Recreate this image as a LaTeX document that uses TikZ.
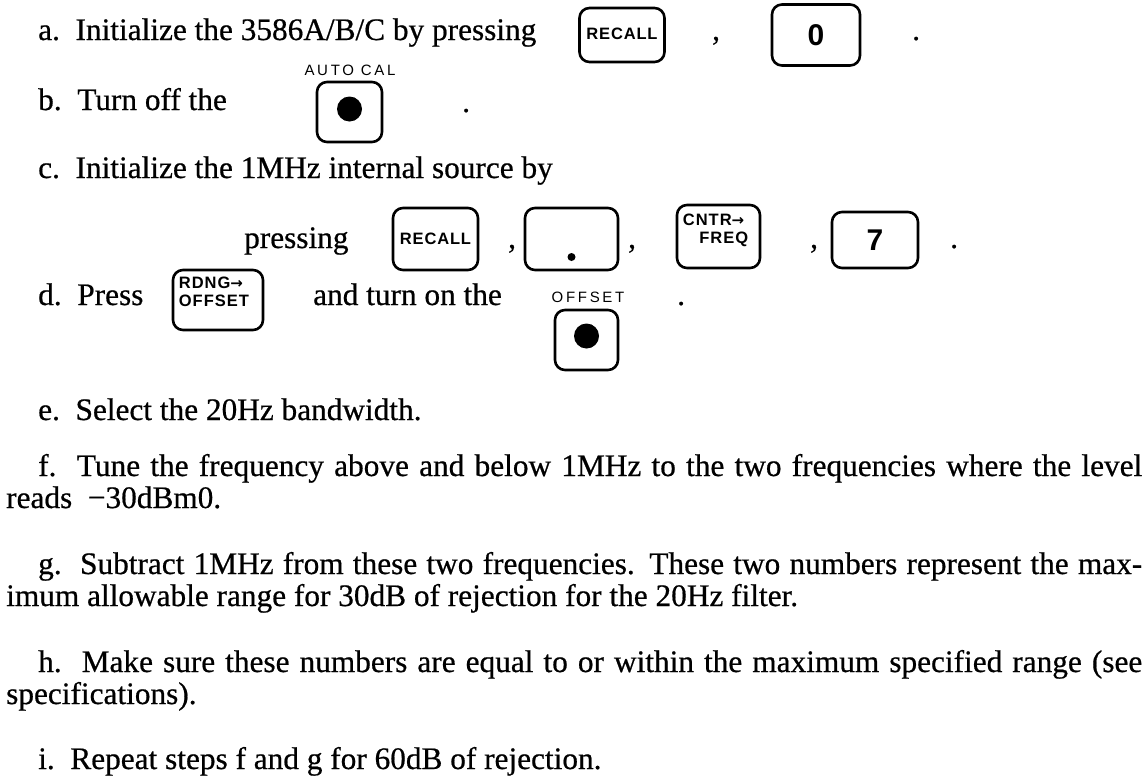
\documentclass[tikz,border=0pt]{standalone}
\usepackage{fontspec}
\setmainfont[FakeBold=0.6]{Liberation Serif}
\newfontfamily\keyfont[LetterSpace=5]{Liberation Sans}
\newfontfamily\widekeyfont[LetterSpace=6]{Liberation Sans}
\newfontfamily\capfont[LetterSpace=18]{Liberation Sans}
\newfontfamily\arrowfont{DejaVu Sans}
\begin{document}
\begin{tikzpicture}[x=1pt,y=-1pt,
  txt/.style={anchor=base west,inner sep=0pt,font=\fontsize{31.3}{32}\selectfont},
  para/.style={txt,text width=1136pt,align=justify},
  keybox/.style={draw,line width=2.6pt,rounded corners=10pt,inner sep=0pt,
    font=\keyfont\bfseries\fontsize{16.5}{18}\selectfont,align=center},
  bigkey/.style={keybox,font=\keyfont\bfseries\fontsize{30}{32}\selectfont},
  keylbl/.style={inner sep=0pt,font=\widekeyfont\bfseries\fontsize{16.5}{18}\selectfont},
  caplbl/.style={inner sep=0pt,anchor=base,font=\capfont\fontsize{15}{16}\selectfont},
  knob/.style={fill=black}
]
\useasboundingbox (0,0) rectangle (1148,782);
\newcommand\keyarrow{{\arrowfont\bfseries\fontsize{15}{15}\selectfont\raisebox{0.5pt}{→}}}

% step a
\node[txt] (ta) at (38,40) {a.\ \ Initialize the 3586A/B/C by pressing};
\node[keybox,minimum width=85pt,minimum height=54pt,text depth=2pt] (recallA) at (622,35) {RECALL};
\node[txt] (ca1) at (712,40) {,};
\node[bigkey,minimum width=88pt,minimum height=61pt] (zeroA) at (816,35) {0};
\node[txt] (pa) at (912,40) {.};

% step b
\node[caplbl] (acl) at (350,75) {AUTO CAL};
\node[txt] (tb) at (38,110) {b.\ \ Turn off the};
\node[keybox,minimum width=65pt,minimum height=60pt] (autocal) at (349.5,112) {};
\fill[knob] ([yshift=3pt]autocal.center) circle (12.5pt);
\node[txt] (pb) at (462,112) {.};

% step c
\node[txt] (tc) at (38,178) {c.\ \ Initialize the 1MHz internal source by};
\node[txt] (tp) at (244,248) {pressing};
\node[keybox,minimum width=85pt,minimum height=62pt] (recallC) at (435.5,239) {RECALL};
\node[txt] (cc1) at (508,248) {,};
\node[keybox,minimum width=93pt,minimum height=62pt] (dotkey) at (571.5,239) {};
\fill[knob] ([yshift=-18pt]dotkey.center) circle (4pt);
\node[txt] (cc2) at (628,248) {,};
\node[keybox,minimum width=83pt,minimum height=63pt] (cntr) at (718.5,236.5) {};
\node[keylbl,anchor=base west] (cntr1) at ([xshift=7pt,yshift=-22pt]cntr.north west) {CNTR\keyarrow};
\node[keylbl,anchor=base east] (cntr2) at ([xshift=-13pt,yshift=-40pt]cntr.north east) {FREQ};
\node[txt] (cc3) at (810,248) {,};
\node[bigkey,minimum width=86pt,minimum height=56pt] (sevenC) at (875,240) {7};
\node[txt] (pc) at (950,248) {.};

% step d
\node[txt] (td) at (38,305) {d.\ \ Press};
\node[keybox,minimum width=90pt,minimum height=60pt] (rdng) at (218,300) {};
\node[keylbl,anchor=base west] (rdng1) at ([xshift=7pt,yshift=-20pt]rdng.north west) {RDNG\keyarrow};
\node[keylbl,anchor=base west] (rdng2) at ([xshift=7pt,yshift=-38pt]rdng.north west) {OFFSET};
\node[txt] (tt) at (313,305) {and turn on the};
\node[caplbl] (ofl) at (588,302) {OFFSET};
\node[keybox,minimum width=63pt,minimum height=60pt] (offset) at (586.5,340) {};
\fill[knob] ([yshift=4pt]offset.center) circle (12.5pt);
\node[txt] (pd) at (677,305) {.};

% steps e to i
\node[txt] (te) at (38,420) {e.\ \ Select the 20Hz bandwidth.};
\node[para] (tf) at (6,476) {\hspace*{32pt}f.\ \ Tune the frequency above and below 1MHz to the two frequencies where the level\linebreak reads \ −30dBm0.};
\node[para] (tg) at (6,574) {\hspace*{32pt}g.\ \ Subtract 1MHz from these two frequencies. These two numbers represent the max-\linebreak imum allowable range for 30dB of rejection for the 20Hz filter.};
\node[para] (th) at (6,672) {\hspace*{32pt}h.\ \ Make sure these numbers are equal to or within the maximum specified range (see\linebreak specifications).};
\node[txt] (ti) at (38,769) {i.\ \ Repeat steps f and g for 60dB of rejection.};
\end{tikzpicture}
\end{document}
